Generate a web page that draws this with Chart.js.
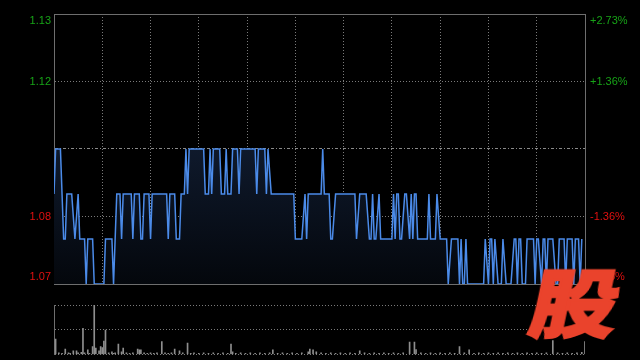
<!DOCTYPE html>
<html><head><meta charset="utf-8">
<script src="https://cdn.jsdelivr.net/npm/chart.js@4.4.1/dist/chart.umd.min.js"></script>
<style>
html,body{margin:0;padding:0;background:#000;width:640px;height:360px;overflow:hidden}
#c1{position:absolute;left:0;top:0}
#c2{position:absolute;left:0;top:300px}
#logo{position:absolute;left:535px;top:258px;font-family:"Noto Sans CJK SC";font-weight:900;font-size:83px;line-height:1;color:#ea432c;-webkit-text-stroke:2.5px #ea432c;transform:scale(1.05,0.885) skewX(-10deg);transform-origin:50% 50%;}
</style></head><body>
<canvas id="c1" width="640" height="300"></canvas>
<canvas id="c2" width="640" height="60"></canvas>
<div id="logo">股</div>
<script>
// ---- data (minutes since open, price) ----
const prevClose = 1.10;
const minutes = [
  0, 1,4, 6,7, 8,11, 13, 15, 16,19, 20, 21,24, 25,31,
  32,36, 37, 39,41, 42, 43,48, 49, 50,53, 54,55, 56,59, 60,
  61,70, 71, 72,75, 76,78, 79,81, 82, 83, 84,93, 94,96, 97,
  98, 99,103, 104,106, 107, 108,110, 111,114, 115, 116,125, 126, 127,131,
  132, 133, 135,149, 150,154, 156, 157, 158,166, 167, 168,171, 172,173,
  175,187, 188, 190,194, 196,197, 198, 199,200, 202, 203,210, 211, 212,
  213,214, 215,216, 218,219, 221, 222, 223, 224,225, 226,232, 233, 234,237,
  238, 240,244, 245, 247,251, 252, 253, 254,255, 256, 257,267, 268,
  270, 271,272, 273, 274, 276,278, 279, 281,284, 286,287, 288, 289,290,
  291,293, 294,298, 299, 300,301, 303, 304,305, 306, 307,310, 312,313, 314,317,
  318, 319,322, 323, 324,326, 327, 328
];
const prices = [
  1.09, 1.10,1.10, 1.08,1.08, 1.09,1.09, 1.08, 1.09, 1.08,1.08, 1.07, 1.08,1.08, 1.07,1.07,
  1.08,1.08, 1.07, 1.09,1.09, 1.08, 1.09,1.09, 1.08, 1.09,1.09, 1.08,1.08, 1.09,1.09, 1.08,
  1.09,1.09, 1.08, 1.09,1.09, 1.08,1.08, 1.09,1.09, 1.10, 1.09, 1.10,1.10, 1.09,1.09, 1.10,
  1.09, 1.10,1.10, 1.09,1.09, 1.10, 1.09,1.09, 1.10,1.10, 1.09, 1.10,1.10, 1.09, 1.10,1.10,
  1.09, 1.10, 1.09,1.09, 1.08,1.08, 1.09, 1.08, 1.09,1.09, 1.10, 1.09,1.09, 1.08,1.08,
  1.09,1.09, 1.08, 1.09,1.09, 1.08,1.08, 1.09, 1.08,1.08, 1.09, 1.08,1.08, 1.09, 1.08,
  1.09,1.09, 1.08,1.08, 1.09,1.09, 1.08, 1.09, 1.08, 1.09,1.09, 1.08,1.08, 1.09, 1.08,1.08,
  1.09, 1.08,1.08, 1.07, 1.08,1.08, 1.07, 1.08, 1.07,1.07, 1.08, 1.07,1.07, 1.08,
  1.07, 1.08,1.08, 1.07, 1.08, 1.07,1.07, 1.08, 1.07,1.07, 1.08,1.08, 1.07, 1.08,1.08,
  1.07,1.07, 1.08,1.08, 1.07, 1.08,1.08, 1.07, 1.08,1.08, 1.07, 1.08,1.08, 1.07,1.07, 1.08,1.08,
  1.07, 1.08,1.08, 1.07, 1.08,1.08, 1.07, 1.08
];
const volMinutes = [
  1, 3, 5, 7, 9, 10, 12, 14, 15, 17, 18, 19, 21, 22, 24, 25, 26, 28, 29, 30,
  31, 32, 34, 36, 37, 38, 40, 42, 43, 45, 47, 49, 52, 53, 54, 56, 58, 60, 62, 64,
  67, 69, 71, 73, 75, 78, 80, 83, 85, 87, 90, 93, 96, 99, 102, 105, 108, 110, 111, 113,
  116, 119, 122, 125, 128, 131, 134, 136, 139, 142, 145, 148, 151, 154, 158, 159, 161, 163, 166, 169,
  172, 175, 178, 181, 184, 187, 190, 193, 196, 199, 202, 205, 208, 211, 214, 217, 221, 224, 225, 228,
  231, 234, 237, 240, 243, 246, 249, 252, 255, 258, 261, 264, 267, 270, 273, 276, 279, 282, 285, 288,
  291, 294, 297, 300, 303, 306, 310, 313, 316, 319, 322, 325, 328, 330
];
const volValues = [
  31, 3, 2, 11, 3, 2, 7, 7, 3, 4, 53, 3, 9, 2, 16, 100, 13, 7, 16, 14,
  27, 49, 3, 5, 2, 3, 21, 5, 13, 3, 2, 3, 11, 9, 9, 3, 2, 3, 2, 3,
  26, 3, 2, 3, 11, 7, 3, 23, 2, 3, 2, 3, 2, 3, 2, 3, 2, 21, 5, 2,
  3, 2, 3, 2, 3, 2, 3, 9, 2, 3, 2, 3, 2, 3, 5, 11, 9, 5, 3, 2,
  3, 2, 3, 2, 3, 2, 7, 3, 2, 3, 2, 3, 2, 3, 2, 3, 25, 25, 10, 3,
  2, 3, 2, 3, 2, 3, 2, 16, 3, 9, 2, 3, 2, 3, 2, 3, 2, 3, 2, 3,
  2, 3, 2, 3, 2, 3, 28, 3, 2, 3, 2, 3, 4, 26
];
const priceTicks = [1.07, 1.085, 1.10, 1.115, 1.13];
const priceLabels = ['1.07', '1.08', '', '1.12', '1.13'];
const pctLabels = ['-2.73%', '-1.36%', '', '+1.36%', '+2.73%'];
const volTicks = [0, 50, 100];

Chart.defaults.font.family = '"Liberation Sans", Arial, sans-serif';
Chart.defaults.font.size = 11;

const FRAME = '#6e6e6e', GRID = '#7a7a7a';
const up = '#17a317', down = '#e01010';

function lbl(text, i, n) {
  if (!text) return '';
  if (i === 0) return [text, ''];
  if (i === n - 1) return ['', text];
  return text;
}
function noPad(s) { s.paddingTop = 0; s.paddingBottom = 0; }

new Chart(document.getElementById('c1'), {
  type: 'line',
  data: { datasets: [{
    data: minutes.map((m, i) => ({ x: m, y: prices[i] })),
    borderColor: '#4b8be9', borderWidth: 1.5, pointRadius: 0, tension: 0,
    fill: 'start',
    backgroundColor: (ctx) => {
      const ca = ctx.chart.chartArea;
      if (!ca) return 'rgba(16,26,44,0.8)';
      const g = ctx.chart.ctx.createLinearGradient(0, ca.top + 130, 0, ca.bottom);
      g.addColorStop(0, '#0f1a2d');
      g.addColorStop(1, '#04070c');
      return g;
    }
  }]},
  options: {
    responsive: false, animation: false,
    layout: { padding: { top: 14, bottom: 16, left: 0, right: 0 } },
    plugins: { legend: { display: false }, tooltip: { enabled: false } },
    scales: {
      x: {
        type: 'linear', min: 0, max: 330,
        ticks: { display: false, stepSize: 30 },
        grid: { color: GRID, drawTicks: false, lineWidth: 1 },
        border: { display: true, color: FRAME, dash: [1, 2] },
        afterFit: s => { s.height = 0; s.paddingLeft = 0; s.paddingRight = 0; }
      },
      y: {
        type: 'linear', position: 'left', min: 1.07, max: 1.13,
        afterBuildTicks: s => { s.ticks = priceTicks.map(v => ({ value: v })); },
        afterFit: s => { s.width = 54; noPad(s); },
        ticks: {
          padding: 3,
          color: c => (c.tick.value > prevClose + 1e-9 ? up : down),
          callback: (v, i) => lbl(priceLabels[i], i, priceTicks.length)
        },
        grid: {
          drawTicks: false,
          color: c => (c.index === 0 || c.index === priceTicks.length - 1) ? FRAME : (c.index === 2 ? '#8a8a8a' : GRID)
        },
        border: {
          display: true, color: FRAME,
          dash: c => (c.index === 0 || c.index === priceTicks.length - 1) ? [] : (c.index === 2 ? [3, 2, 1, 2] : [1, 2])
        }
      },
      y2: {
        type: 'linear', position: 'right', min: 1.07, max: 1.13,
        afterBuildTicks: s => { s.ticks = priceTicks.map(v => ({ value: v })); },
        afterFit: s => { s.width = 55; noPad(s); },
        ticks: {
          padding: 5,
          color: c => (c.tick.value > prevClose + 1e-9 ? up : down),
          callback: (v, i) => lbl(pctLabels[i], i, priceTicks.length)
        },
        grid: { drawOnChartArea: false, drawTicks: false },
        border: { display: true, color: FRAME }
      }
    }
  }
});

new Chart(document.getElementById('c2'), {
  type: 'bar',
  data: { datasets: [{
    data: volMinutes.map((m, i) => ({ x: m, y: volValues[i] })),
    backgroundColor: '#8e8e8e', barThickness: 1, borderWidth: 0
  }]},
  options: {
    responsive: false, animation: false,
    layout: { padding: { top: 5, bottom: 5.6, left: 0, right: 55 } },
    plugins: { legend: { display: false }, tooltip: { enabled: false } },
    scales: {
      x: { type: 'linear', min: 0, max: 330, display: false, offset: false },
      y: {
        min: 0, max: 100,
        afterBuildTicks: s => { s.ticks = volTicks.map(v => ({ value: v })); },
        afterFit: s => { s.width = 54; noPad(s); },
        ticks: { display: false },
        grid: { color: GRID, drawTicks: false },
        border: { display: true, color: FRAME, dash: [1, 2] }
      }
    }
  }
});
</script>
</body></html>
